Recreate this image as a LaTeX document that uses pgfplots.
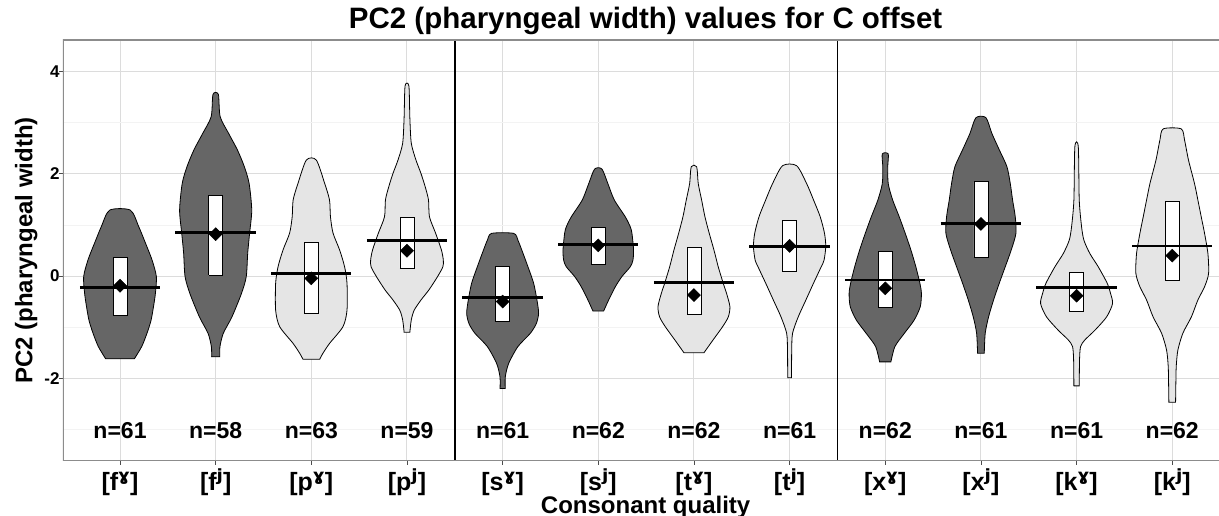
\documentclass[border=0pt]{standalone}
\usepackage{fontspec}
\setmainfont{Liberation Sans}
\newfontfamily\ipafont{DejaVu Sans}
\usepackage{pgfplots}
\usepackage{pgfplotstable}
\pgfplotsset{compat=1.18}

\definecolor{darkv}{HTML}{666666}
\definecolor{lightv}{HTML}{E5E5E5}
\definecolor{gridmaj}{HTML}{DCDCDC}
\definecolor{gridmin}{HTML}{F3F3F3}
\definecolor{frame}{HTML}{8C8C8C}

\newcommand\G{{\ipafont\bfseries\fontsize{29}{29}\selectfont ˠ}}
\newcommand\J{{\ipafont\bfseries\fontsize{29}{29}\selectfont ʲ}}

% violin outlines: y and half-width w (x units), bottom to top
\pgfplotstableread{
y w
-1.62 0.150
-1.38 0.227
-1.12 0.282
-0.87 0.324
-0.60 0.350
-0.34 0.370
-0.01 0.380
0.32 0.334
0.65 0.265
0.97 0.195
1.29 0.108
}\vA
\pgfplotstableread{
y w
-1.58 0.042
-1.38 0.045
-1.12 0.080
-0.80 0.170
-0.34 0.270
-0.01 0.320
0.45 0.335
0.84 0.355
1.29 0.377
1.81 0.350
2.14 0.300
2.47 0.227
2.79 0.136
3.12 0.047
3.555 0.028
}\vB
\pgfplotstableread{
y w
-1.63 0.087
-1.51 0.122
-1.32 0.190
-0.99 0.331
-0.67 0.373
-0.14 0.373
0.18 0.348
0.51 0.296
0.84 0.227
1.16 0.200
1.49 0.190
1.81 0.140
2.27 0.052
}\vC
\pgfplotstableread{
y w
-1.10 0.030
-0.86 0.045
-0.67 0.075
-0.47 0.146
-0.27 0.230
-0.01 0.320
0.18 0.375
0.31 0.380
0.51 0.360
0.835 0.300
1.16 0.235
1.49 0.225
1.75 0.190
2.01 0.146
2.27 0.094
2.60 0.045
3.10 0.030
3.72 0.020
}\vD
\pgfplotstableread{
y w
-2.20 0.027
-1.97 0.028
-1.71 0.063
-1.38 0.160
-1.12 0.290
-0.93 0.352
-0.73 0.376
-0.47 0.359
-0.14 0.324
0.18 0.265
0.51 0.200
0.70 0.160
0.835 0.115
}\vE
\pgfplotstableread{
y w
-0.685 0.056
-0.47 0.108
-0.21 0.178
-0.01 0.247
0.18 0.334
0.31 0.362
0.51 0.369
0.835 0.352
0.965 0.334
1.16 0.282
1.49 0.167
1.81 0.100
2.094 0.038
}\vF
\pgfplotstableread{
y w
-1.50 0.105
-1.25 0.200
-0.99 0.300
-0.80 0.359
-0.60 0.376
-0.34 0.341
-0.14 0.306
0.18 0.254
0.51 0.209
0.835 0.160
1.16 0.115
1.49 0.080
1.81 0.045
2.14 0.028
}\vG
\pgfplotstableread{
y w
-1.99 0.020
-1.45 0.022
-1.12 0.031
-0.80 0.090
-0.47 0.170
-0.14 0.250
0.18 0.330
0.31 0.360
0.575 0.378
0.835 0.365
1.16 0.320
1.49 0.250
1.81 0.178
2.16 0.073
}\vH
\pgfplotstableread{
y w
-1.68 0.059
-1.38 0.101
-1.12 0.200
-0.86 0.303
-0.60 0.366
-0.34 0.378
-0.14 0.362
0.18 0.320
0.51 0.268
0.835 0.209
1.16 0.146
1.49 0.077
1.81 0.031
2.14 0.026
2.39 0.031
}\vI
\pgfplotstableread{
y w
-1.51 0.035
-1.12 0.045
-0.80 0.080
-0.47 0.132
-0.14 0.192
0.18 0.254
0.51 0.317
0.835 0.366
1.16 0.359
1.49 0.331
1.81 0.307
2.14 0.272
2.47 0.192
2.79 0.115
3.10 0.052
}\vJ
\pgfplotstableread{
y w
-2.15 0.028
-1.64 0.031
-1.38 0.042
-1.25 0.087
-1.06 0.192
-0.80 0.314
-0.54 0.376
-0.34 0.355
-0.14 0.320
0.18 0.227
0.44 0.139
0.70 0.077
0.97 0.052
1.49 0.028
2.53 0.018
}\vK
\pgfplotstableread{
y w
-2.47 0.035
-2.10 0.038
-1.77 0.042
-1.45 0.059
-1.12 0.111
-0.80 0.200
-0.47 0.268
-0.21 0.338
0.05 0.380
0.44 0.373
0.835 0.338
1.16 0.303
1.49 0.268
1.81 0.233
2.27 0.170
2.66 0.129
2.88 0.094
}\vL

\pgfplotstableread{
c mean
1 -0.19
2 0.82
3 -0.045
4 0.495
5 -0.50
6 0.60
7 -0.372
8 0.59
9 -0.24
10 1.02
11 -0.385
12 0.40
}\means

% turn a (y,w) table into a closed outline: right side up, left side down
\newcommand\mkoutline[1]{%
  \pgfplotstablecreatecol[create col/set={1}]{s}{#1}%
  \pgfplotstablesort[sort key=y, sort cmp=float >]{\tmpL}{#1}%
  \pgfplotstablemodifyeachcolumnelement{s}\of\tmpL\as\cell{\def\cell{-1}}%
  \pgfplotstablevertcat{#1}{\tmpL}%
}
\mkoutline{\vA}\mkoutline{\vB}\mkoutline{\vC}\mkoutline{\vD}
\mkoutline{\vE}\mkoutline{\vF}\mkoutline{\vG}\mkoutline{\vH}
\mkoutline{\vI}\mkoutline{\vJ}\mkoutline{\vK}\mkoutline{\vL}

\newcommand\violin[3]{%
  \addplot[fill=#3, draw=black, line width=0.8pt, smooth, tension=0.45] table[x expr=#1+\thisrow{s}*\thisrow{w}, y=y] {#2} -- cycle;
}
% box: x-left x-right q1 q3
\newcommand\bx[4]{%
  \addplot[fill=white, draw=black, line width=0.8pt] coordinates {(#1,#3) (#2,#3) (#2,#4) (#1,#4) (#1,#3)};
}
% median line: x-left x-right median
\newcommand\med[3]{%
  \addplot[black, line width=2.6pt] coordinates {(#1,#3) (#2,#3)};
}

\begin{document}
\begin{tikzpicture}
\begin{axis}[
  name=ax,
  scale only axis, width=1156pt, height=421pt,
  xmin=0.404, xmax=12.489, ymin=-3.62, ymax=4.62,
  xtick={1,2,3,4,5,6,7,8,9,10,11,12},
  xticklabels={{[f\G]},{[f\J]},{[p\G]},{[p\J]},{[s\G]},{[s\J]},{[t\G]},{[t\J]},{[x\G]},{[x\J]},{[k\G]},{[k\J]}},
  ytick={-2,0,2,4}, yticklabels={-2,0,2,4},
  minor ytick={-3,-1,1,3},
  xmajorgrids=true, ymajorgrids=true, yminorgrids=true,
  major grid style={gridmaj, line width=1pt},
  minor grid style={gridmin, line width=0.8pt},
  axis line style={draw=none},
  tick align=outside, xtick pos=bottom, ytick pos=left,
  major tick length=4pt, minor tick length=0pt,
  tick style={black!70, line width=0.8pt},
  xticklabel style={font=\fontsize{25}{30}\selectfont\bfseries, anchor=base, yshift=-25.5pt},
  yticklabel style={font=\fontsize{17}{20}\selectfont\bfseries, xshift=4pt},
  title={PC2 (pharyngeal width) values for C offset},
  title style={font=\fontsize{29.5}{35}\selectfont\bfseries, at={(axis description cs:0.504,1.0119)}, anchor=base},
  xlabel={Consonant quality},
  xlabel style={font=\fontsize{24}{29}\selectfont\bfseries, at={(axis description cs:0.504,-0.1247)}, anchor=base},
  ylabel={PC2 (pharyngeal width)},
  ylabel style={font=\fontsize{24}{29}\selectfont\bfseries, at={(axis description cs:-0.0266,0.5)}, anchor=base},
]
\violin{1}{\vA}{darkv}
\violin{2}{\vB}{darkv}
\violin{3}{\vC}{lightv}
\violin{4}{\vD}{lightv}
\violin{5}{\vE}{darkv}
\violin{6}{\vF}{darkv}
\violin{7}{\vG}{lightv}
\violin{8}{\vH}{lightv}
\violin{9}{\vI}{darkv}
\violin{10}{\vJ}{darkv}
\violin{11}{\vK}{lightv}
\violin{12}{\vL}{lightv}

\bx{0.927}{1.073}{-0.777}{0.366}
\bx{1.927}{2.073}{0.013}{1.585}
\bx{2.927}{3.073}{-0.73}{0.66}
\bx{3.927}{4.073}{0.15}{1.14}
\bx{4.927}{5.073}{-0.894}{0.18}
\bx{5.927}{6.073}{0.235}{0.945}
\bx{6.927}{7.073}{-0.745}{0.555}
\bx{7.927}{8.073}{0.084}{1.096}
\bx{8.927}{9.073}{-0.613}{0.476}
\bx{9.927}{10.073}{0.366}{1.845}
\bx{10.927}{11.073}{-0.70}{0.065}
\bx{11.927}{12.073}{-0.085}{1.468}

\med{0.58}{1.42}{-0.229}
\med{1.58}{2.42}{0.855}
\med{2.58}{3.42}{0.053}
\med{3.58}{4.42}{0.70}
\med{4.58}{5.42}{-0.424}
\med{5.58}{6.42}{0.62}
\med{6.58}{7.42}{-0.124}
\med{7.58}{8.42}{0.575}
\med{8.58}{9.42}{-0.078}
\med{9.58}{10.42}{1.03}
\med{10.58}{11.42}{-0.22}
\med{11.58}{12.42}{0.59}

\addplot[only marks, mark=square*, mark size=4.6pt, mark options={rotate=45, fill=black, draw=black}] table[x=c, y=mean] {\means};

\addplot[black, line width=1.6pt] coordinates {(4.5,-3.62) (4.5,4.62)};
\addplot[black, line width=1.6pt] coordinates {(8.5,-3.62) (8.5,4.62)};

\draw[frame, line width=1.2pt] (rel axis cs:1,1) -- (rel axis cs:0,1) -- (rel axis cs:0,0) -- (rel axis cs:1,0);

\begin{scope}[every node/.style={font=\fontsize{23}{28}\selectfont\bfseries, anchor=base}]
\node at (axis cs:1,-3.18) {n=61};
\node at (axis cs:2,-3.18) {n=58};
\node at (axis cs:3,-3.18) {n=63};
\node at (axis cs:4,-3.18) {n=59};
\node at (axis cs:5,-3.18) {n=61};
\node at (axis cs:6,-3.18) {n=62};
\node at (axis cs:7,-3.18) {n=62};
\node at (axis cs:8,-3.18) {n=61};
\node at (axis cs:9,-3.18) {n=62};
\node at (axis cs:10,-3.18) {n=61};
\node at (axis cs:11,-3.18) {n=61};
\node at (axis cs:12,-3.18) {n=62};
\end{scope}
\end{axis}
\pgfresetboundingbox
\path[use as bounding box] ([xshift=-63pt,yshift=-55pt]ax.south west) rectangle ([yshift=40pt]ax.north east);
\end{tikzpicture}
\end{document}
